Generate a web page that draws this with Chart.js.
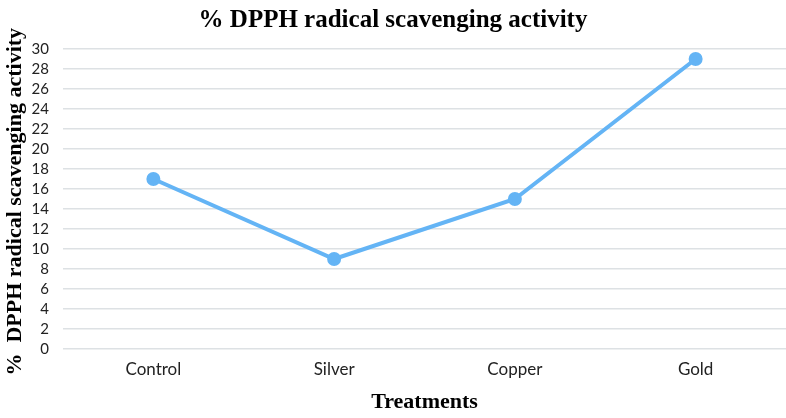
<!DOCTYPE html>
<html>
<head>
<meta charset="utf-8">
<script src="https://cdn.jsdelivr.net/npm/chart.js@4"></script>
<style>
  html, body { margin: 0; padding: 0; background: #fff; }
  #wrap { width: 786px; height: 418px; }
</style>
</head>
<body>
<div id="wrap"><canvas id="myChart" width="786" height="418"></canvas></div>
<script>
// data
var treatments = ['Control', 'Silver', 'Copper', 'Gold'];
var scavenging = [17, 9, 15, 29];

var lineColour = 'rgb(100,180,245)';

window.addEventListener('load', function () {
    var ctx = document.getElementById('myChart').getContext('2d');
    new Chart(ctx, {
        type: 'line',
        data: {
            labels: treatments,
            datasets: [{
                data: scavenging,
                borderColor: lineColour,
                backgroundColor: lineColour,
                borderWidth: 4,
                pointRadius: 5,
                pointHoverRadius: 5,
                tension: 0
            }]
        },
        options: {
            responsive: false,
            animation: false,
            layout: { padding: 0, autoPadding: false },
            plugins: {
                legend: { display: false },
                tooltip: { enabled: false },
                title: {
                    display: true,
                    text: '% DPPH radical scavenging activity',
                    color: '#000',
                    font: { family: '"Liberation Serif", serif', size: 25, weight: 'bold', lineHeight: 1.2 },
                    padding: { top: 6, bottom: 13 }
                }
            },
            scales: {
                x: {
                    offset: true,
                    grid: { display: false, drawTicks: false },
                    border: { display: false },
                    afterFit: function (s) {
                        s.height = 69;
                        s.paddingLeft = 0;
                        s.paddingRight = 0;
                    },
                    ticks: {
                        color: '#222',
                        font: { family: 'Lato, sans-serif', size: 17 },
                        padding: 10
                    },
                    title: {
                        display: true,
                        text: 'Treatments',
                        color: '#000',
                        font: { family: '"Liberation Serif", serif', size: 22, weight: 'bold' },
                        padding: { top: 6, bottom: 2 }
                    }
                },
                y: {
                    min: 0,
                    max: 30,
                    afterFit: function (s) { s.width = 63; },
                    grid: { color: '#dde1e4', lineWidth: 1.5, drawTicks: false },
                    border: { display: false },
                    ticks: {
                        stepSize: 2,
                        autoSkip: false,
                        color: '#222',
                        font: { family: 'Lato, sans-serif', size: 15 },
                        padding: 14
                    },
                    title: {
                        display: true,
                        text: '%  DPPH radical scavenging activity ',
                        color: '#000',
                        font: { family: '"Liberation Serif", serif', size: 22, weight: 'bold' },
                        padding: { top: 2, bottom: 6 }
                    }
                }
            }
        }
    });
});
</script>
</body>
</html>
